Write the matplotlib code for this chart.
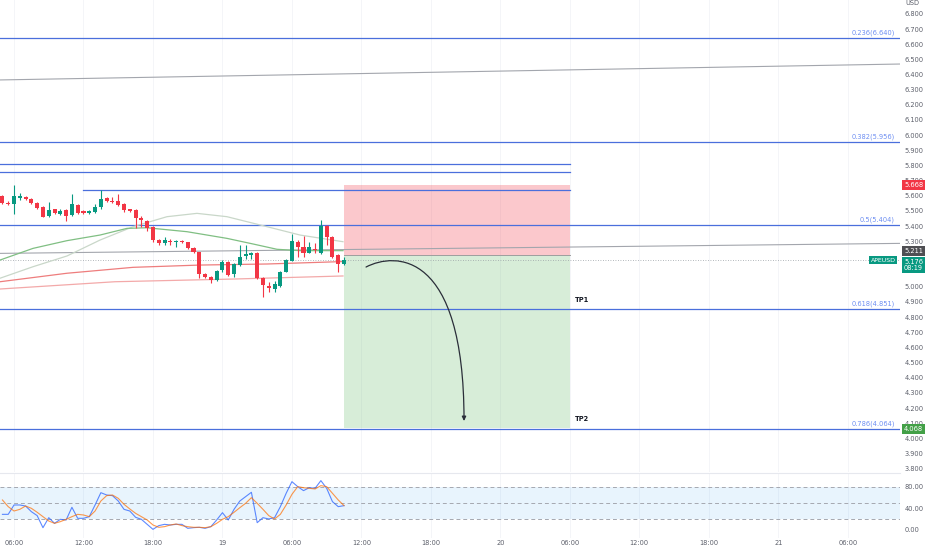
import matplotlib
matplotlib.use("Agg")
import matplotlib.pyplot as plt
from matplotlib.patches import FancyArrowPatch, Rectangle
from matplotlib.path import Path

# 30 min bars, time in hours counted from 18th 00:00
first_bar = 5.0
bar_step = 0.5

opens = [5.598, 5.552, 5.544, 5.583, 5.590, 5.579, 5.550, 5.524, 5.468, 5.511,
         5.480, 5.506, 5.473, 5.539, 5.499, 5.484, 5.491, 5.524, 5.583, 5.565,
         5.565, 5.544, 5.511, 5.506, 5.455, 5.434, 5.396, 5.308, 5.286, 5.302,
         5.292, 5.302, 5.293, 5.257, 5.227, 5.082, 5.062, 5.044, 5.110, 5.161,
         5.084, 5.143, 5.205, 5.209, 5.220, 5.060, 5.005, 4.985, 5.005, 5.099,
         5.172, 5.297, 5.264, 5.224, 5.247, 5.224, 5.401, 5.330, 5.209, 5.150]
highs = [5.605, 5.565, 5.671, 5.615, 5.598, 5.585, 5.556, 5.530, 5.557, 5.515,
         5.512, 5.510, 5.610, 5.545, 5.503, 5.505, 5.545, 5.638, 5.595, 5.590,
         5.610, 5.550, 5.515, 5.512, 5.465, 5.440, 5.400, 5.312, 5.330, 5.318,
         5.305, 5.306, 5.298, 5.262, 5.232, 5.088, 5.068, 5.110, 5.176, 5.168,
         5.155, 5.275, 5.275, 5.230, 5.230, 5.066, 5.031, 5.040, 5.104, 5.180,
         5.348, 5.305, 5.335, 5.297, 5.290, 5.440, 5.405, 5.335, 5.215, 5.198]
lows = [5.545, 5.540, 5.478, 5.575, 5.572, 5.545, 5.512, 5.458, 5.462, 5.478,
        5.470, 5.436, 5.468, 5.478, 5.480, 5.478, 5.486, 5.515, 5.560, 5.552,
        5.533, 5.490, 5.490, 5.387, 5.395, 5.370, 5.295, 5.272, 5.272, 5.272,
        5.262, 5.288, 5.248, 5.225, 5.058, 5.058, 5.025, 5.040, 5.100, 5.070,
        5.066, 5.138, 5.180, 5.180, 5.050, 4.930, 4.965, 4.965, 5.000, 5.094,
        5.168, 5.198, 5.198, 5.220, 5.220, 5.218, 5.275, 5.192, 5.099, 5.145]
closes = [5.550, 5.548, 5.598, 5.598, 5.579, 5.550, 5.521, 5.462, 5.506, 5.484,
          5.499, 5.468, 5.544, 5.484, 5.484, 5.499, 5.528, 5.579, 5.565, 5.557,
          5.539, 5.506, 5.499, 5.451, 5.438, 5.389, 5.308, 5.286, 5.308, 5.293,
          5.302, 5.292, 5.253, 5.231, 5.082, 5.064, 5.044, 5.106, 5.161, 5.077,
          5.150, 5.198, 5.214, 5.224, 5.056, 5.011, 4.994, 5.016, 5.099, 5.176,
          5.302, 5.260, 5.224, 5.260, 5.242, 5.401, 5.326, 5.198, 5.148, 5.176]

stoch_k = [29.1, 29.1, 46.5, 46.5, 44.6, 34.1, 26.7, 4.3, 22.9, 12.4,
           19.8, 18.6, 42.2, 21.7, 21.7, 24.8, 46.5, 69.4, 65.1, 63.9,
           54.0, 38.4, 35.3, 23.6, 19.8, 10.5, 1.2, 8.1, 10.5, 9.3,
           10.5, 10.5, 3.1, 4.3, 5.0, 3.1, 6.2, 18.6, 32.2, 18.6,
           38.4, 53.9, 62.0, 70.1, 13.6, 22.9, 20.5, 22.9, 43.4, 68.2,
           89.9, 80.6, 73.2, 78.7, 77.5, 91.8, 77.5, 52.7, 43.4, 45.3]
stoch_d = [55.8, 43.4, 35.3, 38.4, 44.6, 40.3, 32.9, 24.8, 16.7, 12.4,
           15.5, 19.8, 24.8, 29.1, 27.9, 24.8, 35.3, 53.9, 63.9, 65.1,
           58.9, 47.7, 39.1, 31.0, 24.8, 18.6, 9.3, 5.0, 6.2, 9.3,
           11.2, 8.1, 6.2, 5.0, 5.0, 4.3, 6.2, 12.4, 19.8, 24.8,
           32.9, 41.5, 49.6, 60.1, 49.6, 38.4, 26.7, 20.5, 29.1, 46.5,
           66.3, 80.6, 78.7, 77.5, 76.3, 82.5, 80.6, 68.2, 55.8, 45.3]

# moving averages, vertices (hour, price)
ma_green_t = [4.79, 7.64, 10.58, 13.43, 15.76, 17.49, 20.94, 24.39, 26.64, 28.71, 30.70, 34.41]
ma_green_p = [5.176, 5.253, 5.304, 5.341, 5.385, 5.389, 5.363, 5.319, 5.282, 5.247, 5.238, 5.238]
ma_pale_t = [4.79, 7.64, 10.58, 13.43, 16.28, 19.21, 21.80, 24.39, 27.85, 30.70, 34.41]
ma_pale_p = [5.056, 5.132, 5.203, 5.308, 5.396, 5.462, 5.484, 5.462, 5.396, 5.341, 5.297]
ma_red_t = [4.79, 10.58, 16.28, 22.06, 27.85, 34.41]
ma_red_p = [5.033, 5.089, 5.128, 5.143, 5.150, 5.166]
ma_pink_t = [4.79, 14.72, 25.08, 34.41]
ma_pink_p = [4.985, 5.033, 5.051, 5.071]

# trend lines (start, end)
trend_upper = [(4.79, 6.364), (82.5, 6.469)]
trend_lower = [(4.79, 5.220), (82.5, 5.286)]

fib_levels = [0.236, 0.382, 0.5, 0.618, 0.786]
fib_prices = [6.640, 5.956, 5.404, 4.851, 4.064]
zone_lines = [5.810, 5.755]
resist_line = 5.638

entry = 5.211
stop = 5.668
target = 4.068
last_price = 5.176
pos_start, pos_end = 34.5, 54.0

arrow_t = [36.40, 38.90, 44.86, 44.86]
arrow_p = [5.130, 5.229, 5.242, 4.114]

tick_hours = [6, 12, 18, 24, 30, 36, 42, 48, 54, 60, 66, 72, 78]
tick_names = ["06:00", "12:00", "18:00", "19", "06:00", "12:00", "18:00",
              "20", "06:00", "12:00", "18:00", "21", "06:00"]
price_ticks = [round(3.8 + 0.1 * k, 1) for k in range(31)]
hidden_ticks = [5.1, 5.2]  # covered by the price tags

UP = "#089981"
DOWN = "#f23645"
BLUE = "#4a6fdc"
FIB_TXT = "#6d8ef2"
AXIS_TXT = "#5d606b"
GRID = "#f4f5f8"
FS = 4.8

fig = plt.figure(figsize=(9.32, 5.5), dpi=100)
ax = fig.add_axes([0, 1 - 472 / 550, 900 / 932, 472 / 550])
ax2 = fig.add_axes([0, 1 - 538 / 550, 900 / 932, 65 / 550], sharex=ax)

x_lo, x_hi = 4.79, 82.51
ax.set_xlim(x_lo, x_hi)
ax.set_ylim(3.778, 6.8913)

# position box
ax.add_patch(Rectangle((pos_start, entry), pos_end - pos_start, stop - entry,
                       facecolor=DOWN, alpha=0.27, lw=0, zorder=1))
ax.add_patch(Rectangle((pos_start, target), pos_end - pos_start, entry - target,
                       facecolor="#4caf50", alpha=0.22, lw=0, zorder=1))
ax.plot([pos_start, pos_end], [entry, entry], color="#9e9e9e", lw=0.7, zorder=2)

# fib + levels
for lvl, pr in zip(fib_levels, fib_prices):
    ax.axhline(pr, color=BLUE, lw=0.9, zorder=2)
    ax.annotate(f"{lvl:g}({pr:.3f})", xy=(0.9945, pr), xycoords=ax.get_yaxis_transform(),
                xytext=(0, 1.5), textcoords="offset points", ha="right", va="bottom",
                fontsize=FS, color=FIB_TXT)
for pr in zone_lines:
    ax.plot([x_lo, pos_end], [pr, pr], color=BLUE, lw=0.9, zorder=2)
ax.plot([12.0, pos_end], [resist_line, resist_line], color=BLUE, lw=0.9, zorder=2)

for line in (trend_upper, trend_lower):
    ax.plot([line[0][0], line[1][0]], [line[0][1], line[1][1]], color="#a3a6ad", lw=0.8, zorder=2)

ax.axhline(last_price, color="#9aa0a6", lw=0.6, ls=(0, (1, 2)), zorder=2)

# moving averages
ax.plot(ma_pale_t, ma_pale_p, color="#c9d7c9", lw=0.9, zorder=2)
ax.plot(ma_green_t, ma_green_p, color="#80bf83", lw=0.9, zorder=2)
ax.plot(ma_red_t, ma_red_p, color="#ee7d7d", lw=0.9, zorder=2)
ax.plot(ma_pink_t, ma_pink_p, color="#f3a9a9", lw=0.9, zorder=2)

# candles
times = [first_bar + bar_step * i for i in range(len(opens))]
for t, o, h, l, c in zip(times, opens, highs, lows, closes):
    col = UP if c >= o else DOWN
    ax.vlines(t, l, h, color=col, lw=0.8, zorder=3)
    body = max(abs(c - o), 0.004)
    ax.bar(t, body, width=0.35, bottom=min(o, c), color=col, lw=0, zorder=4)

# projected move arrow
arrow_path = Path(list(zip(arrow_t, arrow_p)), [Path.MOVETO, Path.CURVE4, Path.CURVE4, Path.CURVE4])
ax.add_patch(FancyArrowPatch(path=arrow_path, arrowstyle="-|>,head_length=2.5,head_width=1.2",
                             color="#2a2e39", lw=0.9, zorder=5))

ax.annotate("TP1", xy=(54.4, fib_prices[3]), xytext=(0, 4.5), textcoords="offset points",
            fontsize=FS, fontweight="bold", color="#131722", va="bottom")
ax.annotate("TP2", xy=(54.4, fib_prices[4]), xytext=(0, 4.5), textcoords="offset points",
            fontsize=FS, fontweight="bold", color="#131722", va="bottom")

# price scale
ax.yaxis.tick_right()
ax.set_yticks(price_ticks)
ax.set_yticklabels(["" if p in hidden_ticks else f"{p:.3f}" for p in price_ticks])
ax.tick_params(axis="y", length=0, pad=3.5, labelsize=FS, labelcolor=AXIS_TXT)
ax.tick_params(axis="x", length=0, labelbottom=False)
ax.set_xticks(tick_hours)
ax.grid(True, axis="x", color=GRID, lw=0.7, zorder=0)
ax.set_axisbelow(True)
for s in ax.spines.values():
    s.set_visible(False)

ax.text(1.0056, 6.8913, "USD", transform=ax.get_yaxis_transform(), ha="left", va="top",
        fontsize=FS, color=AXIS_TXT)

ytr = ax.get_yaxis_transform()


def price_tag(y, text, face, x=1.0045, ha="left", size=FS):
    ax.text(x, y, text, transform=ytr, ha=ha, va="center", fontsize=size, color="white",
            linespacing=1.0, zorder=10, clip_on=False,
            bbox=dict(boxstyle="square,pad=0.3", fc=face, ec="none"))


price_tag(stop, "5.668", DOWN)
price_tag(5.238, "5.211", "#4f4f53")
price_tag(5.143, "5.176\n08:19", UP)
price_tag(last_price, "APEUSD", UP, x=0.995, ha="right", size=4.5)
price_tag(target - 0.006, "4.068", "#43a047")

# stochastic pane
ax2.set_ylim(-14.9, 106)
ax2.fill_between([x_lo, x_hi], 20, 80, color="#2196f3", alpha=0.1, lw=0, zorder=1)
for lv in (20, 50, 80):
    ax2.axhline(lv, color="#a5a8b0", lw=0.7, ls=(0, (4, 3)), zorder=2)
ax2.plot(times, stoch_k, color="#2962ff", lw=0.8, alpha=0.75, zorder=3)
ax2.plot(times, stoch_d, color="#ff6d00", lw=0.8, alpha=0.7, zorder=3)
ax2.yaxis.tick_right()
ax2.set_yticks([0, 40, 80])
ax2.set_yticklabels(["0.00", "40.00", "80.00"])
ax2.set_xticks(tick_hours)
ax2.set_xticklabels(tick_names)
ax2.tick_params(axis="y", length=0, pad=3.5, labelsize=FS, labelcolor=AXIS_TXT)
ax2.tick_params(axis="x", length=0, pad=1.5, labelsize=FS, labelcolor=AXIS_TXT)
ax2.grid(True, axis="x", color=GRID, lw=0.7, zorder=0)
ax2.set_axisbelow(True)
for name, s in ax2.spines.items():
    s.set_visible(name == "top")
ax2.spines["top"].set_color("#e6e8ee")
ax2.spines["top"].set_linewidth(0.8)

fig.savefig("out.png", dpi=100)
